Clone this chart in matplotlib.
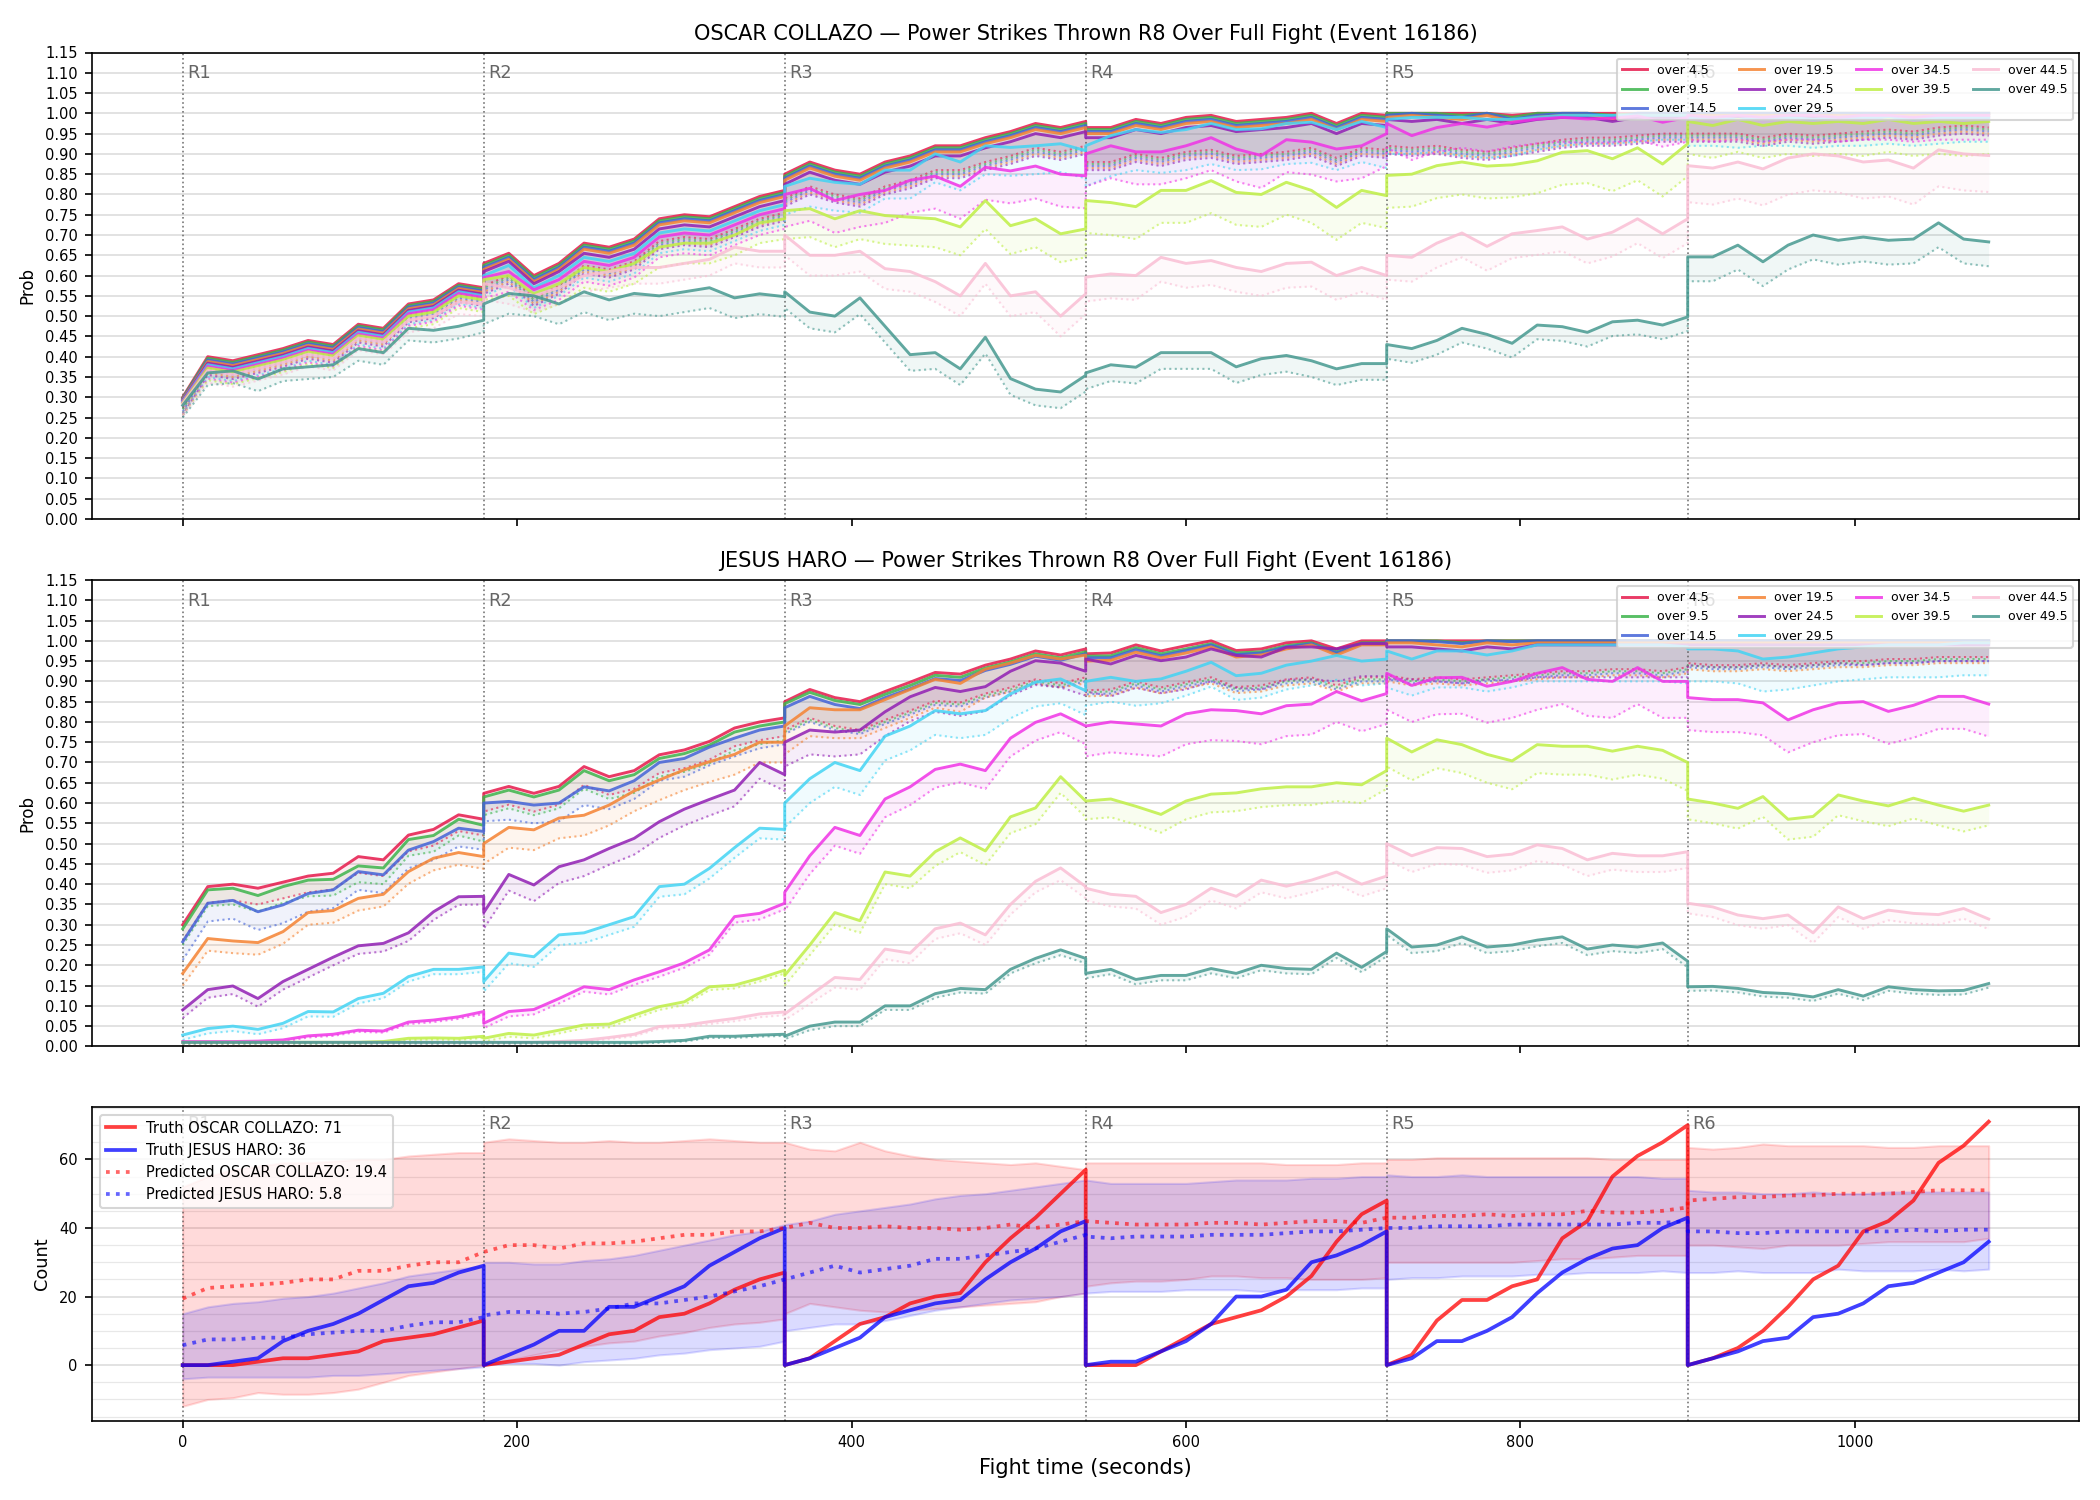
import numpy as np
import matplotlib.pyplot as plt
import matplotlib.transforms as mtransforms
from matplotlib.ticker import MultipleLocator, FormatStrFormatter

# every round sampled at 0,15,...,180 s; the round edge appears twice so resets are vertical
round_len = 180
step = 15
n_rounds = 6
t = np.concatenate([r * round_len + np.arange(0, round_len + 1, step) for r in range(n_rounds)])

thresholds = [4.5, 9.5, 14.5, 19.5, 24.5, 29.5, 34.5, 39.5, 44.5, 49.5]
colors = ['#e6194B', '#3cb44b', '#4363d8', '#f58231', '#911eb4',
          '#42d4f4', '#f032e6', '#bfef45', '#fabed4', '#469990']

#%% OSCAR COLLAZO probabilities (one row per round)
col_o4 = [0.30,0.40,0.39,0.405,0.42,0.44,0.43,0.48,0.47,0.53,0.54,0.58,0.57,
          0.63,0.655,0.60,0.63,0.68,0.67,0.69,0.74,0.75,0.745,0.77,0.795,0.81,
          0.85,0.88,0.86,0.85,0.88,0.895,0.92,0.92,0.94,0.955,0.975,0.965,0.98,
          0.965,0.965,0.985,0.975,0.99,0.995,0.98,0.985,0.99,1.0,0.975,1.0,0.995,
          1.0,1.0,1.0,1.0,1.0,0.995,1.0,1.0,1.0,1.0,1.0,1.0,1.0,
          1.0,1.0,1.0,1.0,1.0,1.0,1.0,1.0,1.0,1.0,1.0,1.0,1.0]
col_o9 = [0.298,0.396,0.386,0.401,0.416,0.436,0.426,0.476,0.466,0.526,0.536,0.576,0.566,
          0.625,0.65,0.595,0.625,0.675,0.665,0.685,0.735,0.745,0.74,0.765,0.79,0.805,
          0.845,0.875,0.855,0.845,0.875,0.89,0.915,0.915,0.935,0.95,0.97,0.96,0.975,
          0.96,0.96,0.98,0.97,0.985,0.99,0.975,0.98,0.985,0.995,0.97,0.995,0.99,
          1.0,1.0,1.0,0.995,1.0,0.99,1.0,1.0,1.0,0.995,1.0,1.0,1.0,
          1.0,1.0,1.0,1.0,1.0,1.0,1.0,1.0,1.0,1.0,1.0,1.0,1.0]
col_o14 = [0.296,0.392,0.382,0.397,0.412,0.432,0.422,0.472,0.462,0.522,0.532,0.572,0.562,
           0.62,0.645,0.59,0.62,0.67,0.66,0.68,0.73,0.74,0.735,0.76,0.785,0.80,
           0.84,0.87,0.85,0.84,0.87,0.885,0.91,0.91,0.93,0.945,0.965,0.955,0.97,
           0.955,0.955,0.975,0.965,0.98,0.985,0.97,0.975,0.98,0.99,0.965,0.99,0.985,
           0.995,1.0,0.995,0.99,1.0,0.985,0.995,1.0,1.0,0.99,1.0,1.0,1.0,
           1.0,1.0,1.0,1.0,1.0,1.0,1.0,1.0,1.0,1.0,1.0,1.0,1.0]
col_o19 = [0.294,0.388,0.378,0.393,0.408,0.428,0.418,0.468,0.458,0.518,0.528,0.568,0.558,
           0.615,0.64,0.585,0.615,0.665,0.655,0.675,0.725,0.735,0.73,0.755,0.78,0.795,
           0.835,0.865,0.845,0.835,0.865,0.88,0.905,0.905,0.925,0.94,0.96,0.95,0.965,
           0.95,0.95,0.97,0.96,0.975,0.98,0.965,0.97,0.975,0.985,0.96,0.985,0.98,
           0.99,0.995,0.99,0.985,0.995,0.98,0.99,0.995,0.995,0.985,0.995,0.995,0.995,
           0.995,0.995,0.995,0.995,0.995,0.995,0.995,0.995,0.995,0.995,0.995,0.995,0.995]
col_o24 = [0.292,0.384,0.374,0.389,0.404,0.424,0.414,0.464,0.454,0.514,0.524,0.564,0.554,
           0.61,0.635,0.58,0.61,0.655,0.645,0.665,0.715,0.725,0.72,0.745,0.77,0.785,
           0.825,0.855,0.835,0.825,0.855,0.87,0.895,0.895,0.915,0.93,0.95,0.94,0.955,
           0.94,0.94,0.96,0.95,0.965,0.97,0.955,0.96,0.965,0.975,0.95,0.975,0.97,
           0.985,0.98,0.985,0.975,0.985,0.975,0.985,0.99,0.99,0.98,0.99,0.99,0.99,
           0.99,0.99,0.99,0.99,0.99,0.99,0.99,0.99,0.99,0.99,0.99,0.99,0.99]
col_o29 = [0.29,0.38,0.37,0.385,0.40,0.42,0.41,0.46,0.45,0.51,0.52,0.56,0.55,
           0.60,0.625,0.57,0.60,0.645,0.635,0.655,0.705,0.715,0.71,0.735,0.76,0.775,
           0.82,0.84,0.83,0.825,0.86,0.86,0.90,0.88,0.92,0.916,0.92,0.925,0.908,
           0.92,0.945,0.96,0.953,0.96,0.975,0.96,0.962,0.975,0.978,0.96,0.98,0.965,
           0.985,0.99,0.99,0.99,0.985,0.985,0.99,0.995,0.995,0.995,0.995,0.995,0.995,
           0.99,0.99,0.985,0.99,0.99,0.985,0.99,0.99,0.99,0.985,0.99,0.99,0.99]
col_o34 = [0.288,0.376,0.366,0.381,0.396,0.416,0.406,0.456,0.446,0.506,0.516,0.556,0.546,
           0.595,0.61,0.565,0.59,0.635,0.625,0.645,0.695,0.705,0.70,0.725,0.75,0.765,
           0.80,0.815,0.785,0.80,0.81,0.835,0.845,0.82,0.867,0.858,0.87,0.85,0.846,
           0.90,0.92,0.905,0.905,0.92,0.94,0.912,0.896,0.935,0.929,0.912,0.92,0.95,
           0.975,0.945,0.965,0.975,0.966,0.978,0.986,0.99,0.986,0.988,0.994,0.978,0.99,
           0.995,0.99,0.995,0.99,0.995,0.995,0.99,0.995,0.995,0.99,0.995,0.995,0.995]
col_o39 = [0.286,0.372,0.362,0.377,0.392,0.412,0.402,0.452,0.442,0.50,0.51,0.55,0.54,
           0.59,0.60,0.555,0.58,0.62,0.61,0.63,0.67,0.68,0.68,0.70,0.73,0.74,
           0.76,0.765,0.74,0.76,0.748,0.744,0.74,0.72,0.785,0.723,0.74,0.703,0.715,
           0.785,0.78,0.77,0.81,0.81,0.834,0.805,0.80,0.83,0.81,0.768,0.81,0.797,
           0.847,0.85,0.871,0.88,0.87,0.873,0.883,0.904,0.908,0.888,0.915,0.875,0.925,
           0.98,0.97,0.985,0.97,0.98,0.975,0.98,0.975,0.985,0.975,0.98,0.975,0.98]
col_o44 = [0.284,0.366,0.356,0.371,0.386,0.406,0.396,0.446,0.436,0.49,0.50,0.535,0.53,
           0.58,0.57,0.55,0.57,0.60,0.61,0.62,0.62,0.63,0.64,0.67,0.66,0.66,
           0.70,0.65,0.65,0.66,0.617,0.61,0.585,0.55,0.63,0.55,0.56,0.50,0.555,
           0.596,0.604,0.60,0.645,0.63,0.637,0.62,0.61,0.63,0.633,0.60,0.62,0.60,
           0.65,0.645,0.68,0.705,0.672,0.703,0.711,0.72,0.69,0.707,0.74,0.703,0.74,
           0.871,0.865,0.88,0.863,0.89,0.90,0.895,0.88,0.885,0.865,0.91,0.90,0.896]
col_o49 = [0.28,0.36,0.365,0.345,0.37,0.375,0.38,0.42,0.41,0.47,0.465,0.475,0.49,
           0.53,0.556,0.55,0.53,0.56,0.54,0.556,0.55,0.56,0.57,0.545,0.555,0.548,
           0.56,0.51,0.50,0.545,0.475,0.405,0.41,0.37,0.448,0.346,0.32,0.313,0.354,
           0.36,0.38,0.374,0.41,0.41,0.41,0.375,0.395,0.403,0.39,0.37,0.383,0.383,
           0.43,0.42,0.44,0.47,0.455,0.433,0.478,0.474,0.46,0.486,0.49,0.478,0.498,
           0.646,0.646,0.675,0.634,0.675,0.70,0.687,0.695,0.687,0.69,0.73,0.69,0.683]

# lower (dotted) edges of the Collazo bands
col_o4_lo = [0.275,0.375,0.365,0.38,0.395,0.415,0.405,0.455,0.445,0.505,0.515,0.555,0.545,
             0.575,0.60,0.545,0.575,0.625,0.615,0.635,0.685,0.695,0.69,0.715,0.74,0.755,
             0.79,0.82,0.80,0.79,0.82,0.835,0.86,0.86,0.88,0.895,0.915,0.905,0.92,
             0.88,0.88,0.90,0.89,0.905,0.91,0.895,0.90,0.905,0.915,0.89,0.915,0.91,
             0.92,0.915,0.92,0.91,0.905,0.915,0.925,0.935,0.94,0.94,0.945,0.95,0.95,
             0.95,0.95,0.95,0.94,0.95,0.945,0.95,0.955,0.96,0.955,0.965,0.97,0.965]
col_o9_lo = [0.27,0.37,0.36,0.375,0.39,0.41,0.40,0.45,0.44,0.50,0.51,0.55,0.54,
             0.57,0.595,0.54,0.57,0.62,0.61,0.63,0.68,0.69,0.685,0.71,0.735,0.75,
             0.785,0.815,0.795,0.785,0.815,0.83,0.855,0.855,0.875,0.89,0.91,0.90,0.915,
             0.875,0.875,0.895,0.885,0.90,0.905,0.89,0.895,0.90,0.91,0.885,0.91,0.905,
             0.915,0.91,0.915,0.905,0.90,0.91,0.92,0.93,0.935,0.935,0.94,0.945,0.945,
             0.945,0.945,0.945,0.935,0.945,0.94,0.945,0.95,0.955,0.95,0.96,0.965,0.96]
col_o14_lo = [0.265,0.365,0.355,0.37,0.385,0.405,0.395,0.445,0.435,0.495,0.505,0.545,0.535,
              0.565,0.59,0.535,0.565,0.615,0.605,0.625,0.675,0.685,0.68,0.705,0.73,0.745,
              0.78,0.81,0.79,0.78,0.81,0.825,0.85,0.85,0.87,0.885,0.905,0.895,0.91,
              0.87,0.87,0.89,0.88,0.895,0.90,0.885,0.89,0.895,0.905,0.88,0.905,0.90,
              0.91,0.905,0.91,0.90,0.895,0.905,0.915,0.925,0.93,0.93,0.935,0.94,0.94,
              0.94,0.94,0.94,0.93,0.94,0.935,0.94,0.945,0.95,0.945,0.955,0.96,0.955]
col_o19_lo = [0.26,0.36,0.35,0.365,0.38,0.40,0.39,0.44,0.43,0.49,0.50,0.54,0.53,
              0.56,0.585,0.53,0.56,0.61,0.60,0.62,0.67,0.68,0.675,0.70,0.725,0.74,
              0.775,0.805,0.785,0.775,0.805,0.82,0.845,0.845,0.865,0.88,0.90,0.89,0.905,
              0.865,0.865,0.885,0.875,0.89,0.895,0.88,0.885,0.89,0.90,0.875,0.90,0.895,
              0.905,0.90,0.905,0.895,0.89,0.90,0.91,0.92,0.925,0.925,0.93,0.935,0.935,
              0.935,0.935,0.935,0.925,0.935,0.93,0.935,0.94,0.945,0.94,0.95,0.955,0.95]
col_o24_lo = [0.255,0.355,0.345,0.36,0.375,0.395,0.385,0.435,0.425,0.485,0.495,0.535,0.525,
              0.555,0.58,0.525,0.555,0.605,0.595,0.615,0.665,0.675,0.67,0.695,0.72,0.735,
              0.77,0.80,0.78,0.77,0.80,0.815,0.84,0.84,0.86,0.875,0.895,0.885,0.90,
              0.86,0.86,0.88,0.87,0.885,0.89,0.875,0.88,0.885,0.895,0.87,0.895,0.89,
              0.90,0.895,0.90,0.89,0.885,0.895,0.905,0.915,0.92,0.92,0.925,0.93,0.93,
              0.93,0.93,0.93,0.92,0.93,0.925,0.93,0.935,0.94,0.935,0.945,0.95,0.945]
col_o29_lo = [0.26,0.35,0.34,0.355,0.37,0.39,0.38,0.43,0.42,0.48,0.49,0.53,0.52,
              0.55,0.575,0.52,0.55,0.595,0.585,0.605,0.655,0.665,0.66,0.685,0.71,0.725,
              0.75,0.77,0.76,0.755,0.79,0.79,0.83,0.81,0.85,0.846,0.85,0.855,0.84,
              0.82,0.845,0.86,0.853,0.86,0.875,0.86,0.862,0.875,0.878,0.86,0.88,0.865,
              0.90,0.90,0.905,0.895,0.89,0.895,0.91,0.92,0.925,0.925,0.93,0.935,0.935,
              0.92,0.92,0.915,0.92,0.92,0.915,0.92,0.92,0.925,0.92,0.925,0.93,0.93]
col_o34_lo = [0.258,0.346,0.336,0.351,0.366,0.386,0.376,0.426,0.416,0.476,0.486,0.526,0.516,
              0.545,0.56,0.515,0.54,0.585,0.575,0.595,0.645,0.655,0.65,0.675,0.70,0.715,
              0.72,0.735,0.705,0.72,0.73,0.755,0.765,0.74,0.787,0.778,0.79,0.77,0.766,
              0.82,0.84,0.825,0.825,0.84,0.86,0.832,0.816,0.855,0.849,0.832,0.84,0.87,
              0.915,0.885,0.905,0.915,0.906,0.918,0.926,0.93,0.926,0.928,0.934,0.918,0.93,
              0.935,0.93,0.935,0.93,0.935,0.935,0.93,0.935,0.935,0.93,0.935,0.935,0.935]
col_o39_lo = [0.256,0.342,0.332,0.347,0.362,0.382,0.372,0.422,0.412,0.47,0.48,0.52,0.51,
              0.54,0.55,0.505,0.53,0.57,0.56,0.58,0.62,0.63,0.63,0.65,0.68,0.69,
              0.69,0.695,0.67,0.69,0.678,0.674,0.67,0.65,0.715,0.653,0.67,0.633,0.645,
              0.705,0.70,0.69,0.73,0.73,0.754,0.725,0.72,0.75,0.73,0.688,0.73,0.717,
              0.767,0.77,0.791,0.80,0.79,0.793,0.803,0.824,0.828,0.808,0.835,0.795,0.845,
              0.90,0.89,0.905,0.89,0.90,0.895,0.90,0.895,0.905,0.895,0.90,0.895,0.90]
col_o44_lo = [0.254,0.336,0.326,0.341,0.356,0.376,0.366,0.416,0.406,0.46,0.47,0.505,0.50,
              0.54,0.53,0.51,0.53,0.56,0.57,0.58,0.58,0.59,0.60,0.63,0.62,0.62,
              0.65,0.60,0.60,0.61,0.567,0.56,0.535,0.50,0.58,0.50,0.51,0.45,0.505,
              0.536,0.544,0.54,0.585,0.57,0.577,0.56,0.55,0.57,0.573,0.54,0.56,0.54,
              0.59,0.585,0.62,0.645,0.612,0.643,0.651,0.66,0.63,0.647,0.68,0.643,0.68,
              0.781,0.775,0.79,0.773,0.80,0.81,0.805,0.79,0.795,0.775,0.82,0.81,0.806]
col_o49_lo = [0.25,0.33,0.335,0.315,0.34,0.345,0.35,0.39,0.38,0.44,0.435,0.445,0.46,
              0.48,0.506,0.50,0.48,0.51,0.49,0.506,0.50,0.51,0.52,0.495,0.505,0.498,
              0.52,0.47,0.46,0.505,0.435,0.365,0.37,0.33,0.408,0.306,0.28,0.273,0.314,
              0.32,0.34,0.334,0.37,0.37,0.37,0.335,0.355,0.363,0.35,0.33,0.343,0.343,
              0.395,0.385,0.405,0.435,0.42,0.398,0.443,0.439,0.425,0.451,0.455,0.443,0.463,
              0.586,0.586,0.615,0.574,0.615,0.64,0.627,0.635,0.627,0.63,0.67,0.63,0.623]

#%% JESUS HARO probabilities (one row per round)
har_o4 = [0.30,0.394,0.40,0.39,0.405,0.42,0.427,0.468,0.46,0.521,0.535,0.571,0.56,
          0.624,0.641,0.624,0.641,0.69,0.665,0.68,0.719,0.731,0.752,0.785,0.80,0.81,
          0.85,0.88,0.86,0.85,0.875,0.898,0.922,0.918,0.94,0.955,0.975,0.965,0.98,
          0.968,0.97,0.99,0.975,0.988,1.0,0.976,0.98,0.995,1.0,0.98,1.0,1.0,
          1.0,1.0,1.0,1.0,1.0,1.0,1.0,1.0,1.0,1.0,1.0,1.0,1.0,
          1.0,1.0,1.0,1.0,1.0,1.0,1.0,1.0,1.0,1.0,1.0,1.0,1.0]
har_o9 = [0.29,0.386,0.39,0.372,0.394,0.41,0.412,0.445,0.44,0.51,0.52,0.56,0.545,
          0.615,0.632,0.615,0.632,0.68,0.655,0.67,0.71,0.722,0.743,0.775,0.79,0.80,
          0.845,0.873,0.853,0.843,0.868,0.89,0.915,0.91,0.933,0.948,0.968,0.958,0.973,
          0.962,0.963,0.983,0.968,0.98,0.993,0.97,0.973,0.988,0.995,0.973,0.995,0.995,
          1.0,1.0,1.0,0.995,1.0,1.0,1.0,1.0,1.0,1.0,1.0,1.0,1.0,
          1.0,1.0,1.0,1.0,1.0,1.0,1.0,1.0,1.0,1.0,1.0,1.0,1.0]
har_o14 = [0.258,0.353,0.36,0.332,0.349,0.377,0.386,0.431,0.423,0.484,0.505,0.538,0.53,
           0.60,0.604,0.595,0.60,0.64,0.63,0.655,0.70,0.71,0.738,0.76,0.78,0.79,
           0.835,0.863,0.843,0.833,0.86,0.882,0.907,0.902,0.927,0.942,0.962,0.952,0.968,
           0.958,0.958,0.978,0.963,0.976,0.99,0.966,0.97,0.985,0.993,0.97,0.993,0.993,
           1.0,1.0,0.998,0.993,1.0,0.998,1.0,1.0,1.0,1.0,1.0,1.0,1.0,
           1.0,1.0,1.0,1.0,1.0,1.0,1.0,1.0,1.0,1.0,1.0,1.0,1.0]
har_o19 = [0.18,0.266,0.26,0.256,0.283,0.33,0.335,0.365,0.375,0.431,0.464,0.478,0.468,
           0.50,0.54,0.534,0.563,0.57,0.595,0.63,0.657,0.682,0.702,0.72,0.75,0.75,
           0.79,0.835,0.83,0.83,0.855,0.88,0.905,0.895,0.93,0.945,0.964,0.955,0.965,
           0.95,0.952,0.972,0.958,0.97,0.985,0.96,0.965,0.98,0.99,0.965,0.99,0.99,
           0.995,0.995,0.99,0.985,0.995,0.99,0.995,0.995,0.995,0.995,0.995,0.995,0.995,
           0.995,0.995,0.995,0.995,0.995,0.995,0.995,0.995,0.995,0.995,0.995,0.995,0.995]
har_o24 = [0.09,0.14,0.149,0.118,0.16,0.19,0.22,0.248,0.254,0.28,0.332,0.369,0.37,
           0.33,0.424,0.398,0.443,0.46,0.488,0.513,0.554,0.585,0.609,0.632,0.70,0.67,
           0.75,0.78,0.775,0.78,0.825,0.862,0.885,0.875,0.887,0.925,0.951,0.945,0.925,
           0.955,0.943,0.964,0.951,0.96,0.98,0.964,0.96,0.984,0.985,0.98,0.993,0.993,
           0.985,0.985,0.98,0.975,0.985,0.98,0.99,0.99,0.99,0.99,0.99,0.99,0.99,
           0.99,0.99,0.99,0.99,0.99,0.99,0.99,0.99,0.99,0.99,0.99,0.99,0.99]
har_o29 = [0.028,0.044,0.05,0.042,0.057,0.086,0.085,0.118,0.131,0.172,0.19,0.19,0.196,
           0.16,0.23,0.221,0.275,0.28,0.30,0.32,0.394,0.40,0.439,0.49,0.538,0.535,
           0.60,0.66,0.70,0.68,0.765,0.79,0.828,0.82,0.828,0.869,0.898,0.906,0.877,
           0.90,0.91,0.90,0.906,0.925,0.947,0.914,0.92,0.94,0.95,0.964,0.95,0.955,
           0.975,0.955,0.975,0.975,0.965,0.975,0.99,0.99,0.99,0.99,0.99,0.99,0.985,
           0.98,0.98,0.975,0.955,0.96,0.97,0.98,0.985,0.99,0.99,0.99,0.995,0.995]
har_o34 = [0.012,0.012,0.012,0.013,0.016,0.026,0.03,0.04,0.038,0.06,0.065,0.073,0.086,
           0.057,0.086,0.091,0.118,0.147,0.14,0.164,0.184,0.206,0.238,0.32,0.328,0.353,
           0.38,0.47,0.54,0.52,0.61,0.64,0.683,0.696,0.68,0.76,0.799,0.82,0.79,
           0.79,0.80,0.795,0.79,0.82,0.83,0.828,0.82,0.84,0.844,0.875,0.852,0.87,
           0.92,0.89,0.909,0.91,0.888,0.90,0.92,0.934,0.905,0.90,0.934,0.90,0.90,
           0.86,0.855,0.855,0.847,0.805,0.83,0.847,0.85,0.826,0.841,0.863,0.863,0.844]
har_o39 = [0.01,0.01,0.01,0.01,0.01,0.01,0.01,0.01,0.012,0.02,0.021,0.02,0.025,
           0.02,0.032,0.028,0.04,0.053,0.055,0.077,0.098,0.11,0.147,0.151,0.168,0.188,
           0.175,0.25,0.33,0.31,0.43,0.42,0.48,0.514,0.482,0.566,0.588,0.665,0.605,
           0.605,0.61,0.592,0.572,0.605,0.622,0.625,0.635,0.64,0.64,0.65,0.645,0.68,
           0.76,0.726,0.756,0.744,0.72,0.704,0.744,0.74,0.74,0.728,0.74,0.73,0.70,
           0.61,0.60,0.587,0.616,0.56,0.567,0.62,0.605,0.593,0.612,0.595,0.58,0.595]
har_o44 = [0.01,0.01,0.01,0.01,0.01,0.01,0.01,0.01,0.01,0.01,0.01,0.01,0.01,
           0.01,0.01,0.01,0.012,0.015,0.022,0.03,0.049,0.052,0.061,0.069,0.08,0.085,
           0.08,0.125,0.17,0.165,0.24,0.23,0.29,0.304,0.275,0.35,0.407,0.44,0.394,
           0.39,0.375,0.37,0.33,0.35,0.39,0.37,0.41,0.395,0.41,0.43,0.40,0.42,
           0.50,0.47,0.49,0.488,0.468,0.474,0.497,0.488,0.46,0.476,0.47,0.47,0.48,
           0.353,0.344,0.324,0.315,0.324,0.28,0.344,0.315,0.336,0.328,0.325,0.34,0.314]
har_o49 = [0.01,0.01,0.01,0.01,0.01,0.01,0.01,0.01,0.01,0.01,0.01,0.01,0.01,
           0.01,0.01,0.01,0.01,0.01,0.01,0.01,0.012,0.015,0.025,0.025,0.028,0.03,
           0.025,0.05,0.06,0.06,0.10,0.10,0.13,0.143,0.14,0.19,0.217,0.238,0.217,
           0.18,0.19,0.165,0.175,0.175,0.192,0.18,0.20,0.192,0.19,0.23,0.195,0.234,
           0.29,0.245,0.25,0.27,0.245,0.25,0.262,0.27,0.24,0.25,0.245,0.255,0.21,
           0.147,0.148,0.143,0.133,0.13,0.122,0.14,0.124,0.147,0.14,0.137,0.138,0.155]

# lower (dotted) edges of the Haro bands
har_o4_lo = [0.26,0.354,0.36,0.35,0.365,0.38,0.387,0.428,0.42,0.481,0.495,0.531,0.52,
             0.579,0.596,0.579,0.596,0.645,0.62,0.635,0.674,0.686,0.707,0.74,0.755,0.765,
             0.78,0.81,0.79,0.78,0.805,0.828,0.852,0.848,0.87,0.885,0.905,0.895,0.91,
             0.878,0.88,0.90,0.885,0.898,0.91,0.886,0.89,0.905,0.91,0.89,0.91,0.91,
             0.915,0.905,0.91,0.905,0.91,0.915,0.92,0.925,0.925,0.93,0.93,0.925,0.935,
             0.945,0.94,0.94,0.945,0.94,0.945,0.95,0.95,0.955,0.955,0.96,0.96,0.96]
har_o9_lo = [0.25,0.346,0.35,0.332,0.354,0.37,0.372,0.405,0.40,0.47,0.48,0.52,0.505,
             0.57,0.587,0.57,0.587,0.635,0.61,0.625,0.665,0.677,0.698,0.73,0.745,0.755,
             0.775,0.805,0.785,0.775,0.80,0.823,0.847,0.843,0.865,0.88,0.90,0.89,0.905,
             0.873,0.875,0.895,0.88,0.893,0.905,0.881,0.885,0.90,0.905,0.885,0.905,0.905,
             0.91,0.90,0.905,0.90,0.905,0.91,0.915,0.92,0.92,0.925,0.925,0.92,0.93,
             0.94,0.935,0.935,0.94,0.935,0.94,0.945,0.945,0.95,0.95,0.955,0.955,0.955]
har_o14_lo = [0.213,0.308,0.315,0.287,0.304,0.332,0.341,0.386,0.378,0.439,0.46,0.493,0.485,
              0.555,0.559,0.55,0.555,0.595,0.585,0.61,0.655,0.665,0.693,0.715,0.735,0.745,
              0.77,0.80,0.78,0.77,0.795,0.818,0.842,0.838,0.86,0.875,0.895,0.885,0.90,
              0.868,0.87,0.89,0.875,0.888,0.90,0.876,0.88,0.895,0.90,0.88,0.90,0.90,
              0.905,0.895,0.90,0.895,0.90,0.905,0.91,0.915,0.915,0.92,0.92,0.915,0.925,
              0.935,0.93,0.93,0.935,0.93,0.935,0.94,0.94,0.945,0.945,0.95,0.95,0.95]
har_o19_lo = [0.15,0.236,0.23,0.226,0.253,0.30,0.305,0.335,0.345,0.401,0.434,0.448,0.438,
              0.45,0.49,0.484,0.513,0.52,0.545,0.58,0.607,0.632,0.652,0.67,0.70,0.70,
              0.72,0.765,0.76,0.76,0.785,0.81,0.835,0.825,0.86,0.875,0.894,0.885,0.895,
              0.863,0.865,0.885,0.87,0.883,0.895,0.871,0.875,0.89,0.895,0.875,0.895,0.895,
              0.90,0.89,0.895,0.89,0.895,0.90,0.905,0.91,0.91,0.915,0.915,0.91,0.92,
              0.93,0.925,0.925,0.93,0.925,0.93,0.935,0.935,0.94,0.94,0.945,0.945,0.945]
har_o24_lo = [0.07,0.12,0.129,0.098,0.14,0.17,0.20,0.228,0.234,0.26,0.312,0.349,0.35,
              0.29,0.384,0.358,0.403,0.42,0.448,0.473,0.514,0.545,0.569,0.592,0.66,0.63,
              0.69,0.72,0.715,0.72,0.765,0.802,0.825,0.815,0.827,0.865,0.891,0.885,0.865,
              0.875,0.863,0.884,0.871,0.88,0.90,0.884,0.88,0.904,0.905,0.90,0.913,0.913,
              0.905,0.905,0.90,0.895,0.905,0.90,0.91,0.91,0.91,0.91,0.91,0.91,0.91,
              0.94,0.935,0.935,0.94,0.935,0.94,0.945,0.94,0.945,0.945,0.95,0.95,0.95]
har_o29_lo = [0.016,0.032,0.038,0.03,0.045,0.074,0.073,0.106,0.119,0.16,0.178,0.178,0.184,
              0.135,0.205,0.196,0.25,0.255,0.275,0.295,0.369,0.375,0.414,0.465,0.513,0.51,
              0.54,0.60,0.64,0.62,0.705,0.73,0.768,0.76,0.768,0.809,0.838,0.846,0.817,
              0.84,0.85,0.84,0.846,0.865,0.887,0.854,0.86,0.88,0.89,0.904,0.89,0.895,
              0.885,0.865,0.885,0.885,0.875,0.885,0.90,0.90,0.90,0.90,0.90,0.90,0.895,
              0.90,0.90,0.895,0.875,0.88,0.89,0.90,0.905,0.91,0.91,0.91,0.915,0.915]
har_o34_lo = [0.008,0.008,0.008,0.009,0.012,0.022,0.026,0.036,0.034,0.055,0.06,0.068,0.08,
              0.045,0.074,0.079,0.106,0.135,0.128,0.152,0.172,0.194,0.226,0.305,0.313,0.338,
              0.335,0.425,0.495,0.475,0.565,0.595,0.638,0.651,0.635,0.715,0.754,0.775,0.745,
              0.715,0.725,0.72,0.715,0.745,0.755,0.753,0.745,0.765,0.769,0.80,0.777,0.795,
              0.83,0.80,0.819,0.82,0.798,0.81,0.83,0.844,0.815,0.81,0.844,0.81,0.81,
              0.78,0.775,0.775,0.767,0.725,0.75,0.767,0.77,0.746,0.761,0.783,0.783,0.764]
har_o39_lo = [0.007,0.007,0.007,0.007,0.007,0.007,0.007,0.007,0.009,0.016,0.017,0.016,0.021,
              0.012,0.024,0.02,0.032,0.045,0.047,0.069,0.09,0.102,0.139,0.143,0.16,0.18,
              0.15,0.225,0.30,0.28,0.40,0.39,0.445,0.479,0.447,0.526,0.548,0.625,0.565,
              0.56,0.565,0.547,0.527,0.56,0.577,0.58,0.59,0.595,0.595,0.605,0.60,0.635,
              0.69,0.656,0.686,0.674,0.65,0.634,0.674,0.67,0.67,0.658,0.67,0.66,0.63,
              0.56,0.55,0.537,0.566,0.51,0.517,0.57,0.555,0.543,0.562,0.545,0.53,0.545]
har_o44_lo = [0.007,0.007,0.007,0.007,0.007,0.007,0.007,0.007,0.007,0.007,0.007,0.007,0.007,
              0.007,0.007,0.007,0.009,0.012,0.018,0.025,0.044,0.046,0.055,0.062,0.072,0.077,
              0.065,0.105,0.145,0.14,0.215,0.205,0.265,0.279,0.25,0.325,0.38,0.41,0.365,
              0.36,0.345,0.34,0.30,0.32,0.36,0.34,0.38,0.365,0.38,0.40,0.37,0.39,
              0.46,0.43,0.45,0.448,0.428,0.434,0.457,0.448,0.42,0.436,0.43,0.43,0.44,
              0.328,0.319,0.299,0.29,0.299,0.255,0.319,0.29,0.311,0.303,0.30,0.315,0.289]
har_o49_lo = [0.007,0.007,0.007,0.007,0.007,0.007,0.007,0.007,0.007,0.007,0.007,0.007,0.007,
              0.007,0.007,0.007,0.007,0.007,0.007,0.007,0.009,0.012,0.021,0.021,0.024,0.026,
              0.018,0.04,0.05,0.05,0.09,0.09,0.12,0.133,0.13,0.18,0.205,0.225,0.205,
              0.168,0.178,0.153,0.163,0.163,0.18,0.168,0.188,0.18,0.178,0.218,0.183,0.222,
              0.275,0.23,0.235,0.255,0.23,0.235,0.247,0.255,0.225,0.235,0.23,0.24,0.195,
              0.137,0.138,0.133,0.123,0.12,0.112,0.13,0.114,0.137,0.13,0.127,0.128,0.145]

#%% strike counts (one row per round)
truth_col = [0,0,0,1,2,2,3,4,7,8,9,11,13,
             0,1,2,3,6,9,10,14,15,18,22,25,27,
             0,2,7,12,14,18,20,21,30,37,43,50,57,
             0,0,0,4,8,12,14,16,20,26,36,44,48,
             0,3,13,19,19,23,25,37,42,55,61,65,70,
             0,2,5,10,17,25,29,39,42,48,59,64,71]
truth_har = [0,0,1,2,7,10,12,15,19,23,24,27,29,
             0,3,6,10,10,17,17,20,23,29,33,37,40,
             0,2,5,8,14,16,18,19,25,30,34,39,42,
             0,1,1,4,7,12,20,20,22,30,32,35,39,
             0,2,7,7,10,14,21,27,31,34,35,40,43,
             0,2,4,7,8,14,15,18,23,24,27,30,36]
pred_col = [19.4,22.5,23,23.5,24,25,25,27.5,27.5,29,30,30,33,
            33,35,35,34,35.5,35.5,36,37,38,38,39,39,40,
            40,41.5,40,40,40.5,40,40,39.5,40,41,40,41,42,
            42,41.5,41,41,41,41.5,41.5,41,41.5,42,42,41.5,43,
            43,43,43.5,43.5,44,43.5,44,44,45,44.5,44.5,45,46,
            48,48.5,49,49,49.5,49.5,50,50,50,50.5,51,51,51]
pred_har = [5.8,7.5,7.5,8,8,9,9.5,10,10,11.5,12.5,12.5,14,
            14.5,15.5,15.5,15,15.5,16.5,18,18,19,20,21.5,23,25,
            25,27,29,27,28,29,31,31,32,33,34,36,38,
            37.5,37,37.5,37.5,37.5,38,38,38,38.5,39,39,39.5,40,
            40,40,40.5,40.5,40.5,41,41,41,41,41,41.5,41.5,42,
            39,39,38.5,38.5,39,39,39,39,39,39.5,39,39.5,39.5]
band_col_hi = [52,55,57,58,59,59,59.5,60,60,61,61.5,62,62,
               65,66,65.5,65,65,65.5,65,65,65.5,66,65.5,65,65,
               65,63,62.5,65,62.5,61,60,59.5,59,58.5,59,58,57,
               59,59,59,59,59,59,59,59,58.5,58.5,58.5,59,59,
               60,60,60.5,60.5,60.5,60.5,60.5,60.5,60.5,60,60,60,60,
               63.5,63,63.5,64.5,64,64,64,64,63.5,63.5,64,64,64]
band_col_lo = [-12,-10,-9.5,-8,-8.5,-8.5,-8,-7,-5,-3,-2,-1,0,
               0,1.5,3,4.5,5.5,6.5,7,8.5,9.5,11,12,12.5,13.5,
               15,18,17,16,15.5,16,16.5,17,17.5,18,18.5,20,21,
               23,24,24.5,24.5,25,26,26,25.5,25.5,25,25,25,25.5,
               30,30,30,30,30,30,30.5,31,31,31.5,32,32,32,
               35,35,34.5,34,35,35,35,35.5,36,36,36,36,37]
band_har_hi = [15,17,18,18.5,19.5,20,21,22.5,24,26,27,28,29,
               30,30,29.5,29.5,30.5,31,32,33.5,35,36.5,38,39,41,
               41,42,44,45,46,47,48.5,49.5,50,51,52,53,54,
               54,53,53,53,53,53.5,54,54,54,54.5,54.5,55,55,
               55.5,55,55,55.5,55,55,55,55,55,55,55,54.5,54.5,
               51,50.5,50.5,50,50,50.5,50,50,50.5,50.5,50.5,50.5,50.5]
band_har_lo = [-4,-3.5,-3.5,-3.5,-3.5,-3.5,-3,-3,-2.5,-2,-1.5,-1,-0.5,
               0,0.5,0.5,0,1,1.5,2,3,3.5,4.5,5,5.5,7,
               10,11,12,12,13,14.5,16,17,18,19,19.5,20,21,
               21,21.5,21.5,21.5,22,22,22,21.5,22,22,22,22.5,22.5,
               25,25.5,25.5,26,26,26,26.5,26.5,27,27,27,27.5,27,
               27,27,27.5,27,27,27,28,27.5,27.5,27.5,28,27.5,28]

col_lines = [col_o4, col_o9, col_o14, col_o19, col_o24, col_o29, col_o34, col_o39, col_o44, col_o49]
col_lows = [col_o4_lo, col_o9_lo, col_o14_lo, col_o19_lo, col_o24_lo,
            col_o29_lo, col_o34_lo, col_o39_lo, col_o44_lo, col_o49_lo]
har_lines = [har_o4, har_o9, har_o14, har_o19, har_o24, har_o29, har_o34, har_o39, har_o44, har_o49]
har_lows = [har_o4_lo, har_o9_lo, har_o14_lo, har_o19_lo, har_o24_lo,
            har_o29_lo, har_o34_lo, har_o39_lo, har_o44_lo, har_o49_lo]

for arr in col_lines + col_lows + har_lines + har_lows + [truth_col, truth_har, pred_col, pred_har,
                                                         band_col_hi, band_col_lo, band_har_hi, band_har_lo]:
    assert len(arr) == len(t), len(arr)


def mark_rounds(ax):
    trans = mtransforms.blended_transform_factory(ax.transData, ax.transAxes)
    for i in range(n_rounds):
        x0 = i * round_len
        ax.axvline(x0, color='#555555', ls=':', lw=0.8, alpha=0.8, zorder=1)
        ax.text(x0 + 3, 0.975, f'R{i + 1}', transform=trans, fontsize=8.5,
                color='#666666', va='top', ha='left', zorder=1)


def prob_panel(ax, lines, lows, title):
    for th, c, y, lo in zip(thresholds, colors, lines, lows):
        ax.fill_between(t, lo, y, color=c, alpha=0.08, lw=0)
        ax.plot(t, lo, color=c, lw=1.0, ls=':', alpha=0.6)
        ax.plot(t, y, color=c, lw=1.4, alpha=0.85, label=f'over {th}')
    mark_rounds(ax)
    ax.set_ylim(0, 1.15)
    ax.set_yticks(np.arange(0, 1.1501, 0.05))
    ax.yaxis.set_major_formatter(FormatStrFormatter('%.2f'))
    ax.grid(axis='y', color='#dddddd', lw=0.8)
    ax.set_axisbelow(True)
    ax.set_ylabel('Prob', fontsize=8)
    ax.set_title(title, fontsize=10)
    ax.tick_params(labelsize=7)
    ax.legend(loc='upper right', ncol=4, fontsize=6, framealpha=0.8, columnspacing=1.8)


fig, axes = plt.subplots(3, 1, figsize=(14, 10), dpi=150, sharex=True,
                         gridspec_kw={'height_ratios': [1.49, 1.49, 1]})
plt.subplots_adjust(left=0.044, right=0.99, top=0.965, bottom=0.053, hspace=0.147)

prob_panel(axes[0], col_lines, col_lows,
           'OSCAR COLLAZO \u2014 Power Strikes Thrown R8 Over Full Fight (Event 16186)')
prob_panel(axes[1], har_lines, har_lows,
           'JESUS HARO \u2014 Power Strikes Thrown R8 Over Full Fight (Event 16186)')

ax = axes[2]
ax.fill_between(t, band_col_lo, band_col_hi, color='red', alpha=0.145)
ax.fill_between(t, band_har_lo, band_har_hi, color='blue', alpha=0.14)
ax.plot(t, truth_col, color='red', lw=1.8, alpha=0.75, label=f'Truth OSCAR COLLAZO: {truth_col[-1]}')
ax.plot(t, truth_har, color='blue', lw=1.8, alpha=0.75, label=f'Truth JESUS HARO: {truth_har[-1]}')
ax.plot(t, pred_col, color='red', lw=1.8, ls=':', alpha=0.6, label=f'Predicted OSCAR COLLAZO: {pred_col[0]}')
ax.plot(t, pred_har, color='blue', lw=1.8, ls=':', alpha=0.6, label=f'Predicted JESUS HARO: {pred_har[0]}')
mark_rounds(ax)
ax.yaxis.set_minor_locator(MultipleLocator(5))
ax.grid(axis='y', which='major', color='#dddddd', lw=0.8)
ax.grid(axis='y', which='minor', color='#e8e8e8', lw=0.6)
ax.set_axisbelow(True)
ax.tick_params(which='minor', length=0)
ax.tick_params(labelsize=7)
ax.set_ylabel('Count', fontsize=8.5)
ax.set_xlabel('Fight time (seconds)', fontsize=10)
ax.legend(loc='upper left', fontsize=7, framealpha=0.8)

plt.savefig('out.png', dpi=150)
